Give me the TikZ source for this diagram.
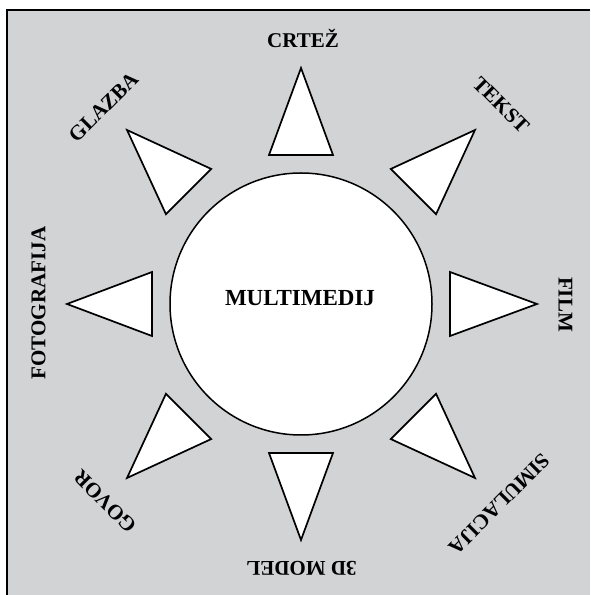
\documentclass[tikz,border=0pt]{standalone}
\usepackage{fontspec}
\setmainfont{Liberation Serif}
\usetikzlibrary{calc}
\definecolor{bggray}{RGB}{209,211,212}
\tikzset{
  lbl/.style={inner sep=0pt, text height=0.66em, text depth=0pt, font=\bfseries\fontsize{21}{21}\selectfont},
  tri/.style={draw=black, fill=white, line width=1.7pt, line join=miter},
}
\begin{document}
\begin{tikzpicture}[x=1pt,y=1pt]
\useasboundingbox (0,0) rectangle (590,595);
\fill[white] (0,0) rectangle (590,595);
\fill[bggray] (7,0) rectangle (590,585);
\draw[line width=2pt] (7,0) -- (7,585) -- (590,585);
\coordinate (c) at (301,291);
\node[circle, draw, fill=white, line width=1.5pt, minimum size=262pt, inner sep=0pt] (hub) at (c) {};
\node[lbl, font=\bfseries\fontsize{23}{23}\selectfont] (mm) at (300,292.5) {MULTIMEDIJ};
% triangles
\foreach \a/\d/\t in {90/149/236, 0/149/236, -90/149/236, 180/149/234, 45/159/246, -45/159/246, -135/159/246, 135/159/246}{
  \draw[tri] ($(c)+(\a:\d pt)+(\a+90:32pt)$) -- ($(c)+(\a:\t pt)$) -- ($(c)+(\a:\d pt)+(\a-90:32pt)$) -- cycle;
}
\node[lbl] (crtez) at (303,551) {CRTEŽ};
\node[lbl, rotate=-45] (tekst) at (498.5,487.5) {TEKST};
\node[lbl, rotate=-90] (film) at (562,290.5) {FILM};
\node[lbl, rotate=-135] (simul) at (496.5,93.5) {SIMULACIJA};
\node[lbl, rotate=180] (model) at (301.5,30) {3D MODEL};
\node[lbl, rotate=135] (govor) at (107.5,96) {GOVOR};
\node[lbl, rotate=90] (foto) at (42,292) {FOTOGRAFIJA};
\node[lbl, rotate=45] (glazba) at (106,485.5) {GLAZBA};
\end{tikzpicture}
\end{document}
